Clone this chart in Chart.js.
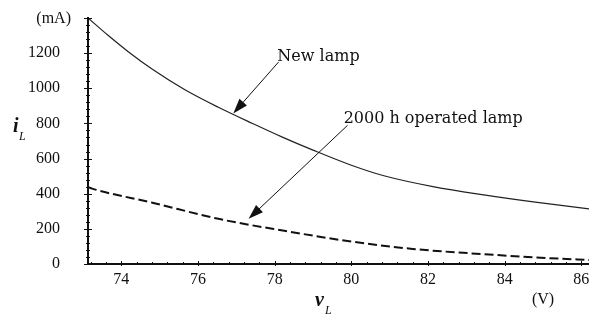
<!DOCTYPE html>
<html>
<head>
<meta charset="utf-8">
<script src="https://cdn.jsdelivr.net/npm/chart.js@4.4.1/dist/chart.umd.min.js"></script>
<style>
  html, body { margin: 0; padding: 0; background: #fff; }
  #wrap { width: 589px; height: 320px; position: relative; }
</style>
</head>
<body>
<div id="wrap"><canvas id="c"></canvas></div>
<script>
// lamp current (mA) vs lamp voltage (V)
const voltsNew = [73.13, 73.66, 74.18, 74.81, 75.67, 76.53, 77.42, 78.2, 79.0, 80.0, 80.85, 82.16, 83.5, 84.8, 86.2];
const currentNew = [1400, 1300, 1208, 1108, 990, 892, 800, 722, 648, 562, 502, 439, 392, 352, 314];

const voltsOld = [73.13, 73.24, 74.81, 76.53, 78.25, 79.9, 81.6, 83.37, 85.1, 86.2];
const currentOld = [438, 429, 349, 257, 189, 131, 86, 57, 34, 23];

const xTicks = [74, 76, 78, 80, 82, 84, 86];
const yTicks = [0, 200, 400, 600, 800, 1000, 1200, 1400];
const xMinorStep = 0.4;
const yMinorStep = 40;

const X_MIN = 73.13, X_MAX = 86.2, Y_MIN = 0, Y_MAX = 1400;

// arrow labels: text anchor and arrow from/to, in data units
const notes = [
  { text: "New lamp", at: [78.07, 1154], from: [78.10, 1149], to: [76.92, 857] },
  { text: "2000 h operated lamp", at: [79.80, 800], from: [79.90, 789], to: [77.32, 257] }
];

const INK = "#111";
const serif = "'Liberation Serif', 'Times New Roman', serif";

function arrow(ctx, x1, y1, x2, y2) {
  const a = Math.atan2(y2 - y1, x2 - x1);
  const len = 15, half = 5;
  ctx.beginPath();
  ctx.moveTo(x1, y1);
  ctx.lineTo(x2 - Math.cos(a) * len * 0.8, y2 - Math.sin(a) * len * 0.8);
  ctx.lineWidth = 1;
  ctx.strokeStyle = INK;
  ctx.stroke();
  ctx.beginPath();
  ctx.moveTo(x2, y2);
  ctx.lineTo(x2 - Math.cos(a) * len + Math.sin(a) * half, y2 - Math.sin(a) * len - Math.cos(a) * half);
  ctx.lineTo(x2 - Math.cos(a) * len - Math.sin(a) * half, y2 - Math.sin(a) * len + Math.cos(a) * half);
  ctx.closePath();
  ctx.fillStyle = INK;
  ctx.fill();
}

const decor = {
  id: "decor",
  afterDraw(chart) {
    const { ctx, chartArea: area, scales: { x, y } } = chart;
    ctx.save();
    ctx.strokeStyle = INK;
    ctx.lineWidth = 1;

    // y ticks, crossing the axis
    for (let v = Y_MIN; v <= Y_MAX + 0.001; v += yMinorStep) {
      const py = Math.round(y.getPixelForValue(v)) + 0.5;
      const major = Math.abs(v % 200) < 0.001;
      const h = major ? 4 : 2;
      ctx.beginPath();
      ctx.moveTo(area.left - h, py);
      ctx.lineTo(area.left + h, py);
      ctx.stroke();
    }
    // x ticks
    for (let v = 73.2; v <= X_MAX + 0.001; v += xMinorStep) {
      const px = Math.round(x.getPixelForValue(v)) + 0.5;
      const major = xTicks.some(t => Math.abs(t - v) < 0.01);
      const h = major ? 3 : 2;
      ctx.beginPath();
      ctx.moveTo(px, area.bottom - h);
      ctx.lineTo(px, area.bottom + h - 1);
      ctx.stroke();
    }

    ctx.fillStyle = INK;
    // unit labels
    ctx.font = "16px " + serif;
    ctx.textBaseline = "middle";
    ctx.textAlign = "right";
    ctx.fillText("(mA)", area.left - 17, y.getPixelForValue(Y_MAX) + 1);
    ctx.textAlign = "center";
    ctx.fillText("(V)", 543, 300);

    // axis symbols with subscripts
    ctx.textAlign = "left";
    ctx.textBaseline = "alphabetic";
    ctx.font = "bold italic 20px " + serif;
    ctx.fillText("i", 13, 132);
    ctx.fillText("v", 315, 306);
    ctx.font = "italic 12px " + serif;
    ctx.fillText("L", 19, 140);
    ctx.fillText("L", 325, 314);

    // arrow notes
    ctx.font = "16px 'DejaVu Serif', serif";
    for (const n of notes) {
      ctx.fillText(n.text, x.getPixelForValue(n.at[0]), y.getPixelForValue(n.at[1]));
      arrow(ctx,
        x.getPixelForValue(n.from[0]), y.getPixelForValue(n.from[1]),
        x.getPixelForValue(n.to[0]), y.getPixelForValue(n.to[1]));
    }
    ctx.restore();
  }
};

const pairs = (xs, ys) => xs.map((v, i) => ({ x: v, y: ys[i] }));

new Chart(document.getElementById("c"), {
  type: "line",
  data: {
    datasets: [
      {
        label: "New lamp",
        data: pairs(voltsNew, currentNew),
        borderColor: "#222",
        borderWidth: 1.2,
        cubicInterpolationMode: "monotone",
        pointRadius: 0,
        fill: false
      },
      {
        label: "2000 h operated lamp",
        data: pairs(voltsOld, currentOld),
        borderColor: "#111",
        borderWidth: 2,
        borderDash: [9, 4],
        cubicInterpolationMode: "monotone",
        pointRadius: 0,
        fill: false
      }
    ]
  },
  options: {
    responsive: true,
    maintainAspectRatio: false,
    animation: false,
    layout: { padding: { top: 18, right: 0, left: 0, bottom: 0 } },
    plugins: {
      legend: { display: false },
      tooltip: { enabled: false }
    },
    scales: {
      x: {
        type: "linear",
        min: X_MIN,
        max: X_MAX,
        afterBuildTicks: s => { s.ticks = xTicks.map(v => ({ value: v })); },
        afterFit: s => { s.height = 56; s.paddingLeft = 0; s.paddingRight = 0; },
        grid: { display: false, drawTicks: false },
        border: { display: true, color: INK, width: 2 },
        ticks: {
          color: INK,
          padding: 6,
          maxRotation: 0,
          font: { family: serif, size: 16 }
        }
      },
      y: {
        type: "linear",
        min: Y_MIN,
        max: Y_MAX,
        afterBuildTicks: s => { s.ticks = yTicks.map(v => ({ value: v })); },
        afterFit: s => { s.width = 88; s.paddingTop = 0; s.paddingBottom = 0; },
        grid: { display: false, drawTicks: false },
        border: { display: true, color: INK, width: 2 },
        ticks: {
          color: INK,
          padding: 28,
          font: { family: serif, size: 16 },
          callback: v => (v === Y_MAX ? "" : v)
        }
      }
    }
  },
  plugins: [decor]
});
</script>
</body>
</html>
